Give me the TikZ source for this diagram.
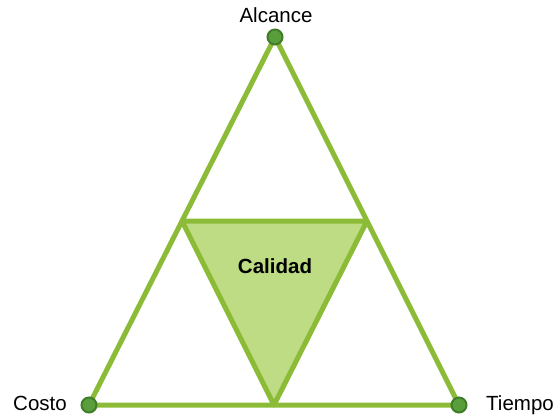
\documentclass[tikz,border=0pt]{standalone}
\usepackage{fontspec}
\setmainfont{Liberation Sans}
\usetikzlibrary{calc}
\definecolor{edgeGreen}{RGB}{140, 187, 55}
\definecolor{fillGreen}{RGB}{189, 220, 132}
\definecolor{dotGreen}{RGB}{90, 158, 60}
\definecolor{dotBorder}{RGB}{63, 125, 42}

\begin{document}
\begin{tikzpicture}[
          x=1pt, y=-1pt,
          edge/.style={draw=edgeGreen, line width=5pt, line join=round},
          vertex/.style={circle, fill=dotGreen, draw=dotBorder, line width=2pt, minimum size=15pt, inner sep=0pt},
          lbl/.style={font=\fontsize{20.5}{24}\selectfont, anchor=base, inner sep=0pt}
        ]
          \useasboundingbox (0,0) rectangle (557,415);
          \coordinate (top) at (275,37);
          \coordinate (left) at (89,405);
          \coordinate (right) at (459,405);
          \coordinate (ml) at ($(top)!0.5!(left)$);
          \coordinate (mr) at ($(top)!0.5!(right)$);
          \coordinate (mb) at ($(left)!0.5!(right)$);

          % inner triangle
          \filldraw[edge, fill=fillGreen] (ml) -- (mr) -- (mb) -- cycle;
          % outer triangle
          \draw[edge] (top) -- (left) -- (right) -- cycle;

          \node[vertex] (alcance) at (top) {};
          \node[vertex] (costo) at (left) {};
          \node[vertex] (tiempo) at (right) {};

          \node[lbl] (alcanceLbl) at (276,23) {Alcance};
          \node[lbl] (costoLbl) at (40,410) {Costo};
          \node[lbl] (tiempoLbl) at (520,410) {Tiempo};
          \node[lbl, font=\fontsize{20.5}{24}\selectfont\bfseries] (calidad) at (275,273) {Calidad};
        \end{tikzpicture}
\end{document}
